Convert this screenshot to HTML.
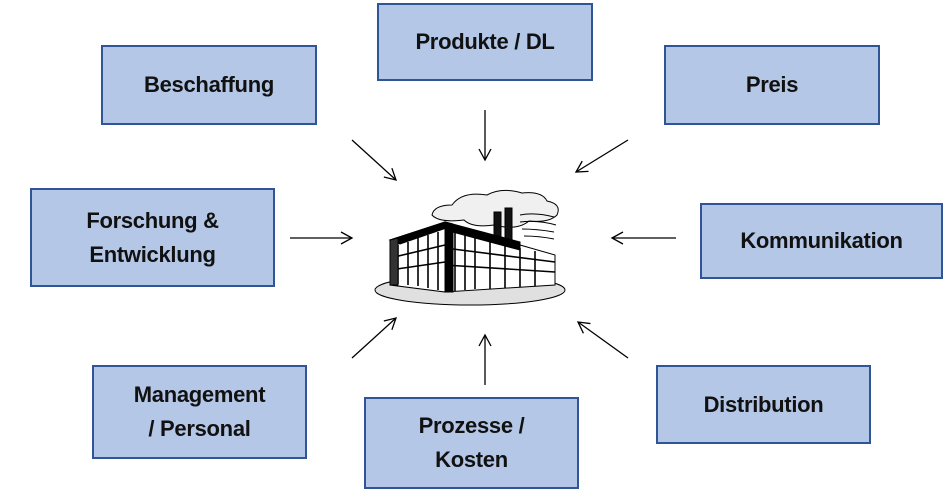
<!DOCTYPE html>
<html><head><meta charset="utf-8"><style>
html,body{margin:0;padding:0;background:#fff;width:951px;height:495px;overflow:hidden;position:relative}
.b{position:absolute;box-sizing:border-box;background:#b4c7e7;border:2px solid #2f5597;display:flex;align-items:center;justify-content:center;text-align:center;font-family:"Liberation Sans",sans-serif;font-weight:bold;font-size:22px;line-height:34px;color:#111;letter-spacing:-0.3px}
svg{position:absolute;left:0;top:0}
</style></head><body>
<div class="b" style="left:377px;top:3px;width:216px;height:78px">Produkte / DL</div>
<div class="b" style="left:101px;top:45px;width:216px;height:80px">Beschaffung</div>
<div class="b" style="left:664px;top:45px;width:216px;height:80px">Preis</div>
<div class="b" style="left:30px;top:188px;width:245px;height:99px">Forschung &amp;<br>Entwicklung</div>
<div class="b" style="left:700px;top:203px;width:243px;height:76px">Kommunikation</div>
<div class="b" style="left:92px;top:365px;width:215px;height:94px">Management<br>/ Personal</div>
<div class="b" style="left:364px;top:397px;width:215px;height:92px">Prozesse /<br>Kosten</div>
<div class="b" style="left:656px;top:365px;width:215px;height:79px">Distribution</div>
<svg width="951" height="495" viewBox="0 0 951 495">
<defs><marker id="a" markerWidth="14" markerHeight="14" refX="12" refY="7" orient="auto" markerUnits="userSpaceOnUse"><path d="M1,1 L12,7 L1,13" fill="none" stroke="#000" stroke-width="1.3"/></marker></defs>
<g stroke="#000" stroke-width="1.3" fill="none" marker-end="url(#a)">
<line x1="485" y1="110" x2="485" y2="160"/>
<line x1="352" y1="140" x2="396" y2="180"/>
<line x1="628" y1="140" x2="576" y2="172"/>
<line x1="290" y1="238" x2="352" y2="238"/>
<line x1="676" y1="238" x2="612" y2="238"/>
<line x1="352" y1="358" x2="396" y2="318"/>
<line x1="485" y1="385" x2="485" y2="335"/>
<line x1="628" y1="358" x2="578" y2="322"/>
</g>
<!-- factory -->
<g stroke="#000" stroke-width="1">
<path d="M432,215 q2,-10 20,-10 q10,-14 35,-10 q15,-8 35,-2 q20,-2 25,8 q15,3 10,14 q-8,8 -28,6 q-12,10 -35,4 q-22,3 -30,-5 q-25,3 -32,-5z" fill="#f0f0f0"/>
<path d="M520,215 q15,-3 34,2 M520,222 q18,-2 36,3 M522,229 q15,0 32,3 M524,236 q15,0 30,3" fill="none"/>
<ellipse cx="470" cy="290" rx="95" ry="15" fill="#e0e0e0"/>
<rect x="494" y="212" width="7" height="40" fill="#111"/>
<rect x="505" y="208" width="7" height="44" fill="#111"/>
<polygon points="390,240 445,222 445,292 390,285" fill="#fff"/>
<polygon points="445,222 520,245 555,255 555,285 445,292" fill="#fff"/>
<polygon points="390,240 445,222 455,225 400,244" fill="#000"/>
<polygon points="445,222 520,242 520,250 445,230" fill="#000"/>
<g stroke="#000" stroke-width="1.6">
<line x1="398" y1="245" x2="398" y2="284"/><line x1="408" y1="242" x2="408" y2="285"/><line x1="418" y1="238" x2="418" y2="286"/><line x1="428" y1="235" x2="428" y2="288"/><line x1="438" y1="232" x2="438" y2="290"/>
<line x1="390" y1="258" x2="445" y2="245"/><line x1="390" y1="270" x2="445" y2="262"/>
<line x1="455" y1="232" x2="455" y2="291"/><line x1="465" y1="234" x2="465" y2="290"/><line x1="475" y1="237" x2="475" y2="289"/><line x1="490" y1="241" x2="490" y2="289"/><line x1="505" y1="245" x2="505" y2="288"/><line x1="520" y1="248" x2="520" y2="287"/><line x1="535" y1="251" x2="535" y2="286"/>
<line x1="445" y1="248" x2="555" y2="262"/><line x1="445" y1="265" x2="555" y2="272"/>
</g>
<polygon points="445,222 453,224 453,292 445,292" fill="#000"/>
<polygon points="390,240 398,238 398,285 390,285" fill="#333"/>
</g>
</svg>
</body></html>
